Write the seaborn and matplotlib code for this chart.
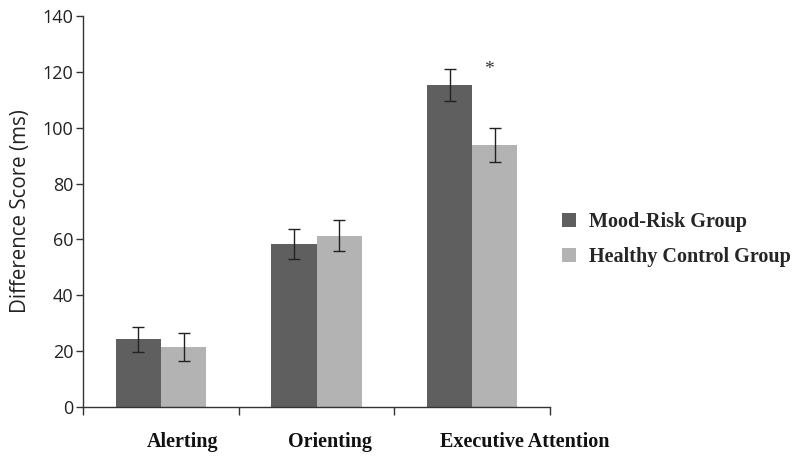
import matplotlib
matplotlib.use("Agg")
import matplotlib.pyplot as plt
import matplotlib.transforms as mtransforms
import seaborn as sns
import pandas as pd
import numpy as np
from matplotlib.ticker import FixedLocator

categories = ["Alerting", "Orienting", "Executive Attention"]
groups = ["Mood-Risk Group", "Healthy Control Group"]
mood_risk = [24.2, 58.3, 115.3]
healthy = [21.5, 61.3, 93.8]
mood_risk_err = [4.5, 5.4, 5.8]
healthy_err = [4.9, 5.6, 6.2]
colors = ["#5f5f5f", "#b3b3b3"]

df = pd.DataFrame({
    "Task": categories * 2,
    "Group": [groups[0]] * 3 + [groups[1]] * 3,
    "Score": mood_risk + healthy,
})

sns.set_style("white")
fig = plt.figure(figsize=(8, 4.59), dpi=100)
ax = fig.add_axes([0.104, 0.1133, 0.5835, 0.8517])

sns.barplot(data=df, x="Task", y="Score", hue="Group", order=categories,
            hue_order=groups, palette=colors, width=0.58, gap=0,
            errorbar=None, saturation=1, ax=ax, legend=True, linewidth=0)

errs = [mood_risk_err, healthy_err]
vals = [mood_risk, healthy]
for cont, e, v in zip(ax.containers, errs, vals):
    xs = [p.get_x() + p.get_width() / 2 for p in cont.patches]
    ax.errorbar(xs, v, yerr=e, fmt="none", ecolor="#222222", elinewidth=1,
                capsize=4, capthick=1)

# significance asterisk above healthy executive bar
p = ax.containers[1].patches[2]
ax.text(p.get_x() + p.get_width() / 2 - 0.04, 121, "*", ha="center", va="center",
        fontsize=14, color="#333333", family="Liberation Serif")

ax.set_ylim(0, 140)
ax.set_xlim(-0.5, 2.5)
ax.set_yticks(np.arange(0, 141, 20))
ax.xaxis.set_minor_locator(FixedLocator([-0.5, 0.5, 1.5, 2.5]))
ax.tick_params(axis="x", which="major", length=0, pad=18)
ax.tick_params(axis="x", which="minor", length=6, width=1, color="#333333", direction="out", bottom=True)
ax.tick_params(axis="y", which="major", length=5, width=1, color="#333333", direction="out", left=True, pad=2)
label_shift_pt = [15.8, 10.0, 38.0]
for lab, dx in zip(ax.get_xticklabels(), label_shift_pt):
    lab.set_family("Liberation Serif")
    lab.set_fontweight("bold")
    lab.set_fontsize(14.5)
    lab.set_color("#111111")
    lab.set_transform(lab.get_transform() + mtransforms.ScaledTranslation(dx / 72, 0, fig.dpi_scale_trans))
for lab in ax.get_yticklabels():
    lab.set_family("Open Sans")
    lab.set_fontsize(13)
    lab.set_color("#222222")

ax.set_xlabel("")
ax.set_ylabel("Difference Score (ms)", family="Open Sans", fontsize=14.8, color="#222222", labelpad=8)

for s in ["top", "right"]:
    ax.spines[s].set_visible(False)
for s in ["left", "bottom"]:
    ax.spines[s].set_color("#333333")
    ax.spines[s].set_linewidth(1)

handles, labels = ax.get_legend_handles_labels()
ax.get_legend().remove()
fig.legend(handles, labels, loc="center left", bbox_to_anchor=(0.68, 0.478),
           frameon=False, handlelength=0.7, handleheight=0.7, handletextpad=0.62,
           labelspacing=0.72, prop={"family": "Liberation Serif", "weight": "bold", "size": 14.5})

fig.savefig("out.png", dpi=100)
